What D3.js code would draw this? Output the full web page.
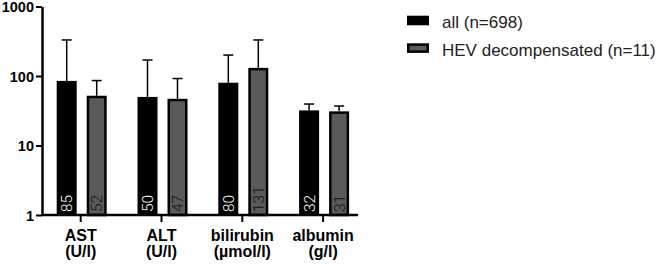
<!DOCTYPE html>
<html><head><meta charset="utf-8">
<script src="https://cdn.jsdelivr.net/npm/d3@7"></script>
<style>body{margin:0;background:#fff}svg{display:block}</style>
</head><body>
<svg id="c" width="663" height="264"></svg>
<script>
const categories = ["AST|(U/l)", "ALT|(U/l)", "bilirubin|(µmol/l)", "albumin|(g/l)"];
const seriesNames = ["all (n=698)", "HEV decompensated (n=11)"];
const allValues = [85, 50, 80, 32];
const allErrTop = [330, 170, 200, 39.5];
const hevValues = [52, 47, 131, 31];
const hevErrTop = [86, 92, 330, 37];
const yTicks = [1, 10, 100, 1000];

const svg = d3.select("#c");
const y = d3.scaleLog().domain([1, 1000]).range([215, 6.5]);
const x = d3.scaleBand().domain(categories).range([40.3, 363.5]);
const inner = d3.scaleBand().domain(seriesNames).range([-24, 26]).paddingInner(1/3);

const fills = ["#000000", "#5a5a5a"];
const labelColors = ["#ffffff", "#111111"];
const data = [];
categories.forEach((c, i) => {
  data.push({cat: c, s: seriesNames[0], v: allValues[i], e: allErrTop[i], k: 0});
  data.push({cat: c, s: seriesNames[1], v: hevValues[i], e: hevErrTop[i], k: 1});
});

const g = svg.append("g");
// error bars
data.forEach(d => {
  const cx = x(d.cat) + x.bandwidth()/2 + inner(d.s) + inner.bandwidth()/2;
  g.append("line").attr("x1", cx).attr("x2", cx).attr("y1", y(d.v)).attr("y2", y(d.e))
    .attr("stroke", "#000").attr("stroke-width", 1.5);
  g.append("line").attr("x1", cx - 5).attr("x2", cx + 5).attr("y1", y(d.e)).attr("y2", y(d.e))
    .attr("stroke", "#000").attr("stroke-width", 1.5);
});
// bars
data.forEach(d => {
  const bx = x(d.cat) + x.bandwidth()/2 + inner(d.s);
  const sw = d.k === 1 ? 2.5 : 0;
  g.append("rect")
    .attr("x", bx + sw/2).attr("width", inner.bandwidth() - sw)
    .attr("y", y(d.v) + sw/2).attr("height", y(1) - y(d.v) - sw/2)
    .attr("fill", fills[d.k]).attr("stroke", d.k === 1 ? "#000" : "none").attr("stroke-width", sw);
  const cx = bx + inner.bandwidth()/2;
  g.append("text").attr("transform", `translate(${cx + 5.5},${y(1) - 3}) rotate(-90)`)
    .attr("font-family", "Roboto, 'Liberation Sans', sans-serif").attr("font-weight", 300)
    .attr("font-size", 15.5).attr("fill", labelColors[d.k]).text(d.v);
});

// y axis
const yAxis = svg.append("g").attr("transform", "translate(42,0)")
  .call(d3.axisLeft(y).tickValues(yTicks).tickFormat(d3.format("d")).tickSize(6).tickSizeOuter(0));
yAxis.select(".domain").attr("stroke-width", 2.5);
yAxis.selectAll(".tick line").attr("stroke-width", 2);
yAxis.selectAll(".tick text").attr("font-family", "'Liberation Sans', Arial, sans-serif")
  .attr("font-weight", "bold").attr("font-size", 14.5).attr("fill", "#000").attr("x", -8).attr("dy", "0.36em");

// x axis
const xAxis = svg.append("g").attr("transform", "translate(0,215)")
  .call(d3.axisBottom(x).tickSize(7).tickSizeOuter(0).tickFormat(""));
xAxis.select(".domain").attr("d", "M42,0H358").attr("stroke-width", 2.5);
xAxis.selectAll(".tick line").attr("stroke-width", 2);
xAxis.selectAll(".tick").each(function(d) {
  const parts = d.split("|");
  const sel = d3.select(this);
  parts.forEach((p, j) => {
    sel.append("text").attr("fill", "#000")
      .attr("font-family", "'Liberation Sans', Arial, sans-serif").attr("font-weight", "bold")
      .attr("font-size", 16).attr("text-anchor", "middle")
      .attr("x", 0).attr("y", 26 + j * 15.5).text(p);
  });
});

// legend
const leg = svg.append("g");
seriesNames.forEach((s, i) => {
  const yy = 15.7 + i * 27.6;
  const sw = i === 1 ? 2.5 : 0;
  leg.append("rect").attr("x", 407 + sw/2).attr("y", yy + sw/2).attr("width", 22 - sw).attr("height", 9.6 - sw)
    .attr("fill", fills[i]).attr("stroke", i === 1 ? "#000" : "none").attr("stroke-width", sw);
  leg.append("text").attr("x", 442).attr("y", yy + 12.5)
    .attr("font-family", "'Liberation Sans', Arial, sans-serif").attr("font-size", 17)
    .attr("fill", "#222").text(s);
});
</script>
</body></html>
